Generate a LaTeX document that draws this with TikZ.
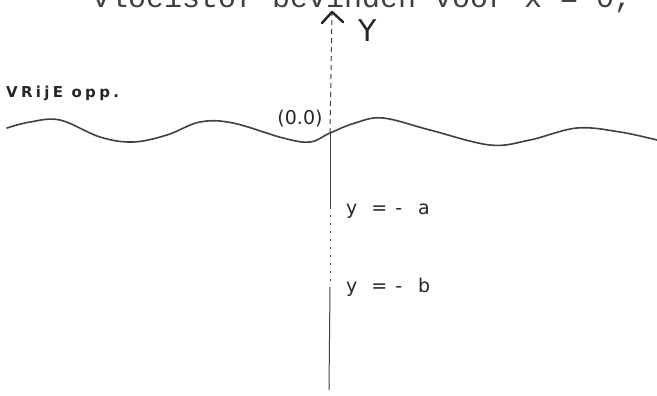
\documentclass[tikz,border=0pt]{standalone}
\usepackage{fontspec}
\setmainfont{DejaVu Sans}
\newfontfamily\typewriter{Liberation Mono}
\newfontfamily\spaced[LetterSpace=22]{DejaVu Sans}
\begin{document}
\begin{tikzpicture}[x=1pt,y=-1pt,
  ink/.style={draw=black!75,line width=1pt},
  wave/.style={draw=black!75,line width=1.6pt,line cap=round},
  barb/.style={draw=black!85,line width=2.4pt,line cap=round,line join=round},
  hand/.style={inner sep=0pt,text=black!85},
  axisdash/.style={ink,dash pattern=on 5pt off 4pt},
  axisdot/.style={ink,dash pattern=on 2pt off 6pt}]
\useasboundingbox (0,0) rectangle (657,396);
\begin{scope}
\clip (0,0) rectangle (657,396);
\node[anchor=base west,inner sep=0pt,font=\typewriter\fontsize{30}{30}\selectfont,text=black!75] (title) at (92,8) {vloeistof bevinden voor x = 0,};
\end{scope}
% axis points
\coordinate (top) at (332,12);
\coordinate (barbL) at (322,23);
\coordinate (barbR) at (343,22);
\coordinate (origin) at (330,133);
\coordinate (amark) at (330,207);
\coordinate (bmark) at (330,287);
\coordinate (bottom) at (329,390);
\draw[axisdash] (origin) -- (top);
\draw[barb] (barbL) -- (top) -- (barbR);
\draw[ink] (origin) -- (amark);
\draw[axisdot] (amark) -- (bmark);
\draw[ink] (bmark) -- (bottom);
% free surface
\draw[wave] plot[smooth,tension=0.6] coordinates {(7,128) (30,122) (60,120) (100,137) (133,142) (167,135) (200,122) (233,123) (283,138) (310,142) (330,133) (355,123) (383,118) (430,130) (490,145) (530,140) (577,128) (620,132) (657,140)};
% labels
\node[hand,font=\fontsize{30}{30}\selectfont] (ylab) at (368,31) {Y};
\node[hand,anchor=west,font=\spaced\bfseries\fontsize{15}{15}\selectfont] (vrije) at (6,93) {VRijE opp.};
\node[hand,font=\fontsize{19}{19}\selectfont] (orig) at (300,119) {(0.0)};
\node[hand,anchor=west,font=\fontsize{19}{19}\selectfont] (alab) at (346,211) {y\hspace{14pt}=\hspace{8pt}-\hspace{16pt}a};
\node[hand,anchor=west,font=\fontsize{19}{19}\selectfont] (blab) at (346,287) {y\hspace{14pt}=\hspace{8pt}-\hspace{16pt}b};
\end{tikzpicture}
\end{document}
